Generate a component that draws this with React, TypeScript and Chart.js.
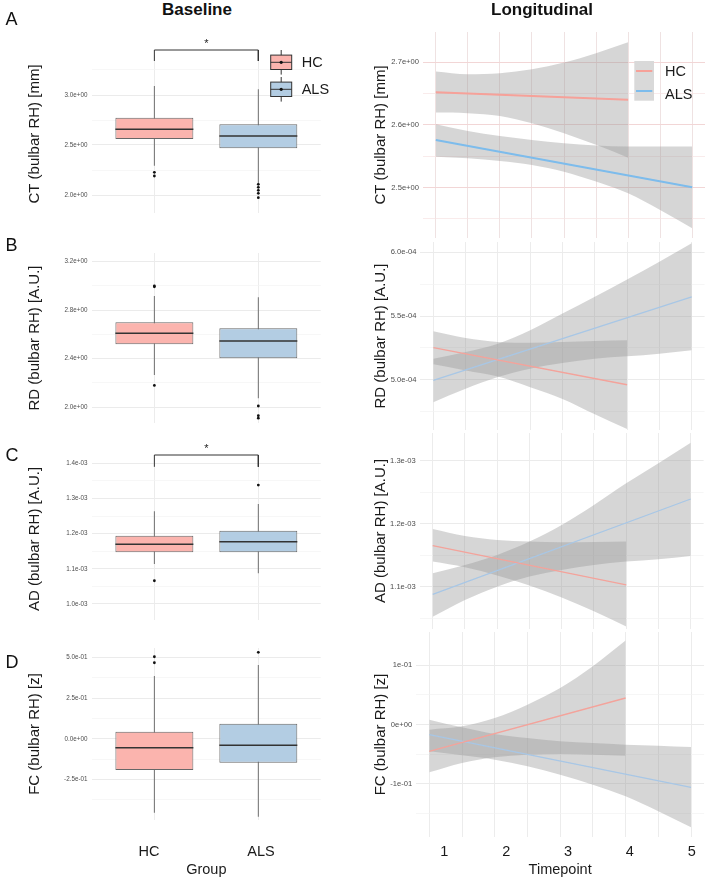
import React, { useEffect, useRef } from "react";
import { Chart, registerables } from "chart.js";

Chart.register(...registerables);

const FONT = "'Liberation Sans', Arial, Helvetica, sans-serif";
Chart.defaults.font.family = FONT;
Chart.defaults.color = "#1a1a1a";

// ---------------- data ----------------
const GROUPS = ["HC", "ALS"];
const GROUP_POS = [1, 2];
const TIMEPOINTS = [1, 2, 3, 4, 5];
const TIMEPOINT_LABELS = ["1", "2", "3", "4", "5"];
const TIME_GRID = [1, 1.5, 2, 2.5, 3, 3.5, 4, 4.5, 5];

const HC_BAND_T = [1, 1.5, 2, 2.5, 3, 3.5, 4];
const ALS_BAND_T = [1, 1.5, 2, 2.5, 3, 3.5, 4, 4.5, 5];
const HC_LINE_T = [1, 4];
const ALS_LINE_T = [1, 5];

// Baseline boxplots: [lower whisker, Q1, median, Q3, upper whisker]
const CT_HC_BOX = [2.293, 2.56, 2.657, 2.773, 3.09];
const CT_ALS_BOX = [2.117, 2.467, 2.59, 2.707, 3.057];
const CT_HC_OUT = [2.227, 2.19];
const CT_ALS_OUT = [2.107, 2.077, 2.047, 2.017, 1.973];
const CT_SIG = [3.34, 3.45];

const RD_HC_BOX = [2.266, 2.519, 2.61, 2.7, 2.917];
const RD_ALS_BOX = [2.074, 2.404, 2.546, 2.651, 2.906];
const RD_HC_OUT = [3.0, 2.993, 2.18];
const RD_ALS_OUT = [2.01, 1.93, 1.91];

const AD_HC_BOX = [1.114e-3, 1.147e-3, 1.17e-3, 1.194e-3, 1.264e-3];
const AD_ALS_BOX = [1.087e-3, 1.147e-3, 1.177e-3, 1.208e-3, 1.284e-3];
const AD_HC_OUT = [1.066e-3];
const AD_ALS_OUT = [1.338e-3];
const AD_SIG = [1.39e-3, 1.4236e-3];

const FC_HC_BOX = [-0.456, -0.192, -0.055, 0.044, 0.387];
const FC_ALS_BOX = [-0.48, -0.147, -0.04, 0.093, 0.455];
const FC_HC_OUT = [0.506, 0.469];
const FC_ALS_OUT = [0.533];

// Baseline y ticks
const CT_B_TICKS = [2.0, 2.5, 3.0];
const CT_B_LABELS = ["2.0e+00", "2.5e+00", "3.0e+00"];
const CT_B_MINOR = [2.25, 2.75, 3.25];
const RD_B_TICKS = [2.0, 2.4, 2.8, 3.2];
const RD_B_LABELS = ["2.0e+00", "2.4e+00", "2.8e+00", "3.2e+00"];
const RD_B_MINOR = [2.2, 2.6, 3.0];
const AD_B_TICKS = [1.0e-3, 1.1e-3, 1.2e-3, 1.3e-3, 1.4e-3];
const AD_B_LABELS = ["1.0e-03", "1.1e-03", "1.2e-03", "1.3e-03", "1.4e-03"];
const AD_B_MINOR = [1.05e-3, 1.15e-3, 1.25e-3, 1.35e-3];
const FC_B_TICKS = [-0.25, 0, 0.25, 0.5];
const FC_B_LABELS = ["-2.5e-01", "0.0e+00", "2.5e-01", "5.0e-01"];
const FC_B_MINOR = [-0.375, -0.125, 0.125, 0.375];

// Longitudinal fits and confidence bands
const CT_HC_LINE = [2.652, 2.64];
const CT_HC_UPPER = [2.6851, 2.6808, 2.6824, 2.6888, 2.6995, 2.7144, 2.7319];
const CT_HC_LOWER = [2.6196, 2.6186, 2.6143, 2.6026, 2.5867, 2.5681, 2.5477];
const CT_ALS_LINE = [2.5759, 2.5003];
const CT_ALS_UPPER = [2.601, 2.5903, 2.5823, 2.5759, 2.5706, 2.5669, 2.5653, 2.5653, 2.5653];
const CT_ALS_LOWER = [2.5493, 2.5466, 2.5424, 2.536, 2.5253, 2.5094, 2.4907, 2.4641, 2.4348];

const RD_HC_LINE = [5.252e-4, 4.961e-4];
const RD_HC_UPPER = [5.381e-4, 5.328e-4, 5.297e-4, 5.291e-4, 5.297e-4, 5.304e-4, 5.31e-4];
const RD_HC_LOWER = [5.121e-4, 5.073e-4, 5.026e-4, 4.942e-4, 4.85e-4, 4.73e-4, 4.614e-4];
const RD_ALS_LINE = [4.995e-4, 5.651e-4];
const RD_ALS_UPPER = [5.165e-4, 5.218e-4, 5.283e-4, 5.388e-4, 5.52e-4, 5.651e-4, 5.787e-4, 5.927e-4, 6.071e-4];
const RD_ALS_LOWER = [4.824e-4, 4.929e-4, 5.021e-4, 5.087e-4, 5.131e-4, 5.165e-4, 5.184e-4, 5.205e-4, 5.231e-4];

const AD_HC_LINE = [1.1652e-3, 1.1029e-3];
const AD_HC_UPPER = [1.1917e-3, 1.1806e-3, 1.1742e-3, 1.1716e-3, 1.1705e-3, 1.171e-3, 1.1716e-3];
const AD_HC_LOWER = [1.1399e-3, 1.131e-3, 1.118e-3, 1.102e-3, 1.083e-3, 1.061e-3, 1.0368e-3];
const AD_ALS_LINE = [1.088e-3, 1.2392e-3];
const AD_ALS_UPPER = [1.1214e-3, 1.1346e-3, 1.1504e-3, 1.1716e-3, 1.198e-3, 1.2297e-3, 1.2641e-3, 1.2958e-3, 1.3285e-3];
const AD_ALS_LOWER = [1.0526e-3, 1.0791e-3, 1.1002e-3, 1.1161e-3, 1.1266e-3, 1.1346e-3, 1.1399e-3, 1.1436e-3, 1.1488e-3];

const FC_HC_LINE = [-0.0449, 0.0449];
const FC_HC_UPPER = [-0.0084, -0.0028, 0.0112, 0.0337, 0.0618, 0.0983, 0.1416];
const FC_HC_LOWER = [-0.0803, -0.0646, -0.0551, -0.0506, -0.0494, -0.0506, -0.0522];
const FC_ALS_LINE = [-0.0169, -0.1056];
const FC_ALS_UPPER = [0.0084, -0.0045, -0.0157, -0.0225, -0.0281, -0.0309, -0.0337, -0.0354, -0.0376];
const FC_ALS_LOWER = [-0.0449, -0.0517, -0.059, -0.0702, -0.0843, -0.1011, -0.1208, -0.1461, -0.173];

// Longitudinal y ticks
const CT_L_TICKS = [2.5, 2.6, 2.7];
const CT_L_LABELS = ["2.5e+00", "2.6e+00", "2.7e+00"];
const CT_L_MINOR = [2.45, 2.55, 2.65];
const RD_L_TICKS = [5.0e-4, 5.5e-4, 6.0e-4];
const RD_L_LABELS = ["5.0e-04", "5.5e-04", "6.0e-04"];
const RD_L_MINOR = [4.75e-4, 5.25e-4, 5.75e-4];
const AD_L_TICKS = [1.1e-3, 1.2e-3, 1.3e-3];
const AD_L_LABELS = ["1.1e-03", "1.2e-03", "1.3e-03"];
const AD_L_MINOR = [1.05e-3, 1.15e-3, 1.25e-3];
const FC_L_TICKS = [-0.1, 0, 0.1];
const FC_L_LABELS = ["-1e-01", "0e+00", "1e-01"];
const FC_L_MINOR = [-0.15, -0.05, 0.05];

// ---------------- styles ----------------
const BOX_FILL = ["#FBB4AE", "#B3CDE3"];
const BOX_WIDTH = 0.75;
const BAND_FILL = "rgba(153,153,153,0.4)";

type Area = { l: number; r: number; t: number; b: number };
type Frame = { left: number; top: number; width: number; height: number; area: Area; padLeft: number; axisH: number };

const LEFT_FRAMES: Frame[] = [
  { left: 0, top: 20, width: 354, height: 207, area: { l: 92, r: 320.7, t: 55, b: 213 }, padLeft: 20, axisH: 0 },
  { left: 0, top: 239, width: 354, height: 198, area: { l: 92, r: 320.7, t: 253, b: 423 }, padLeft: 20, axisH: 0 },
  { left: 0, top: 430, width: 354, height: 204, area: { l: 92, r: 320.7, t: 458, b: 620 }, padLeft: 20, axisH: 0 },
  { left: 0, top: 634, width: 354, height: 247, area: { l: 92, r: 320.7, t: 648, b: 820 }, padLeft: 20, axisH: 58.7 },
];
const RIGHT_FRAMES: Frame[] = [
  { left: 354, top: 18, width: 354, height: 234, area: { l: 423, r: 705, t: 32, b: 238 }, padLeft: 12, axisH: 0 },
  { left: 354, top: 228, width: 354, height: 216, area: { l: 420.4, r: 704.6, t: 242, b: 430 }, padLeft: 12, axisH: 0 },
  { left: 354, top: 419, width: 354, height: 224, area: { l: 419.8, r: 703.6, t: 433, b: 629 }, padLeft: 12, axisH: 0 },
  { left: 354, top: 618, width: 354, height: 263, area: { l: 416.2, r: 704.1, t: 632, b: 837 }, padLeft: 12, axisH: 41.7 },
];

function frameLayout(f: Frame) {
  return {
    padding: {
      left: f.padLeft,
      right: f.left + f.width - f.area.r,
      top: f.area.t - f.top,
      bottom: f.top + f.height - f.area.b - f.axisH,
    },
    yWidth: f.area.l - f.left - f.padLeft,
  };
}

function yScale(o: any) {
  const ticks = [
    ...o.major.map((v: number) => ({ value: v, major: true })),
    ...o.minor.map((v: number) => ({ value: v, major: false })),
  ].sort((a: any, b: any) => a.value - b.value);
  return {
    type: "linear",
    position: "left",
    min: o.range[0],
    max: o.range[1],
    afterBuildTicks: (s: any) => {
      s.ticks = ticks.map((t: any) => ({ ...t }));
    },
    afterFit: (s: any) => {
      s.width = o.width;
    },
    border: { display: false },
    grid: {
      drawTicks: false,
      color: (c: any) => (c.tick && c.tick.major ? o.gridMajor : o.gridMinor),
      lineWidth: (c: any) => (c.tick && c.tick.major ? 1 : 0.7),
    },
    ticks: {
      autoSkip: false,
      padding: o.tickPad,
      color: "#4d4d4d",
      font: { size: o.tickSize, family: FONT },
      callback: (v: number) => {
        const i = o.major.indexOf(v);
        return i >= 0 ? o.labels[i] : "";
      },
    },
    title: {
      display: true,
      text: o.title,
      color: "#1a1a1a",
      font: { size: 15, family: FONT },
      padding: { top: o.titlePad, bottom: 0 },
    },
  };
}

function xGridScale(o: any) {
  return {
    type: "linear",
    position: "bottom",
    weight: 0,
    min: o.min,
    max: o.max,
    offset: false,
    afterBuildTicks: (s: any) => {
      s.ticks = o.grid.map((v: number) => ({ value: v }));
    },
    afterFit: (s: any) => {
      s.height = 0;
    },
    border: { display: false },
    grid: { offset: false, drawTicks: false, color: o.color, lineWidth: 1 },
    ticks: { display: false },
  };
}

function xLabelScale(o: any) {
  return {
    type: "linear",
    position: "bottom",
    weight: 1,
    min: o.min,
    max: o.max,
    offset: false,
    afterBuildTicks: (s: any) => {
      s.ticks = o.values.map((v: number) => ({ value: v }));
    },
    afterFit: (s: any) => {
      s.height = o.height;
    },
    border: { display: false },
    grid: { display: false, drawTicks: false },
    ticks: {
      autoSkip: false,
      maxRotation: 0,
      minRotation: 0,
      padding: o.pad,
      color: "#1a1a1a",
      font: { size: 14.5, family: FONT },
      callback: (v: number) => {
        const i = o.values.indexOf(v);
        return i >= 0 ? o.labels[i] : "";
      },
    },
    title: {
      display: true,
      text: o.title,
      color: "#1a1a1a",
      font: { size: 14.5, family: FONT },
      padding: { top: 0, bottom: 0 },
    },
  };
}

const BASE_PANELS = [
  { title: "CT (bulbar RH) [mm]", hc: CT_HC_BOX, als: CT_ALS_BOX, hcOut: CT_HC_OUT, alsOut: CT_ALS_OUT, sig: CT_SIG, major: CT_B_TICKS, labels: CT_B_LABELS, minor: CT_B_MINOR, range: [1.82, 3.4], legend: true },
  { title: "RD (bulbar RH) [A.U.]", hc: RD_HC_BOX, als: RD_ALS_BOX, hcOut: RD_HC_OUT, alsOut: RD_ALS_OUT, sig: null, major: RD_B_TICKS, labels: RD_B_LABELS, minor: RD_B_MINOR, range: [1.87, 3.2717], legend: false },
  { title: "AD (bulbar RH) [A.U.]", hc: AD_HC_BOX, als: AD_ALS_BOX, hcOut: AD_HC_OUT, alsOut: AD_ALS_OUT, sig: AD_SIG, major: AD_B_TICKS, labels: AD_B_LABELS, minor: AD_B_MINOR, range: [0.9544e-3, 1.4151e-3], legend: false },
  { title: "FC (bulbar RH) [z]", hc: FC_HC_BOX, als: FC_ALS_BOX, hcOut: FC_HC_OUT, alsOut: FC_ALS_OUT, sig: null, major: FC_B_TICKS, labels: FC_B_LABELS, minor: FC_B_MINOR, range: [-0.5006, 0.5598], legend: false },
];

const LONG_PANELS = [
  { title: "CT (bulbar RH) [mm]", hcLine: CT_HC_LINE, hcUpper: CT_HC_UPPER, hcLower: CT_HC_LOWER, alsLine: CT_ALS_LINE, alsUpper: CT_ALS_UPPER, alsLower: CT_ALS_LOWER, major: CT_L_TICKS, labels: CT_L_LABELS, minor: CT_L_MINOR, range: [2.4193, 2.7484], legend: true },
  { title: "RD (bulbar RH) [A.U.]", hcLine: RD_HC_LINE, hcUpper: RD_HC_UPPER, hcLower: RD_HC_LOWER, alsLine: RD_ALS_LINE, alsUpper: RD_ALS_UPPER, alsLower: RD_ALS_LOWER, major: RD_L_TICKS, labels: RD_L_LABELS, minor: RD_L_MINOR, range: [4.606e-4, 6.081e-4], legend: false },
  { title: "AD (bulbar RH) [A.U.]", hcLine: AD_HC_LINE, hcUpper: AD_HC_UPPER, hcLower: AD_HC_LOWER, alsLine: AD_ALS_LINE, alsUpper: AD_ALS_UPPER, alsLower: AD_ALS_LOWER, major: AD_L_TICKS, labels: AD_L_LABELS, minor: AD_L_MINOR, range: [1.033e-3, 1.3439e-3], legend: false },
  { title: "FC (bulbar RH) [z]", hcLine: FC_HC_LINE, hcUpper: FC_HC_UPPER, hcLower: FC_HC_LOWER, alsLine: FC_ALS_LINE, alsUpper: FC_ALS_UPPER, alsLower: FC_ALS_LOWER, major: FC_L_TICKS, labels: FC_L_LABELS, minor: FC_L_MINOR, range: [-0.1893, 0.1561], legend: false },
];

function boxConfig(p: any, f: Frame, bottom: boolean) {
  const lay = frameLayout(f);
  const boxes = [p.hc, p.als];
  const datasets: any[] = [];
  datasets.push({
    type: "bar",
    data: GROUP_POS.map((x, i) => ({ x, y: [boxes[i][0], boxes[i][4]] })),
    backgroundColor: "#6f6f6f",
    borderWidth: 0,
    maxBarThickness: 1,
    grouped: false,
    order: 4,
  });
  datasets.push({
    type: "bar",
    data: GROUP_POS.map((x, i) => ({ x, y: [boxes[i][1], boxes[i][3]] })),
    backgroundColor: BOX_FILL,
    borderColor: "#676767",
    borderWidth: 1,
    borderSkipped: false,
    barPercentage: BOX_WIDTH,
    categoryPercentage: 1,
    grouped: false,
    order: 3,
  });
  GROUP_POS.forEach((x, i) => {
    datasets.push({
      type: "line",
      data: [
        { x: x - BOX_WIDTH / 2, y: boxes[i][2] },
        { x: x + BOX_WIDTH / 2, y: boxes[i][2] },
      ],
      borderColor: "#333333",
      borderWidth: 1.5,
      pointRadius: 0,
      fill: false,
      order: 0,
    });
  });
  const outs = [p.hcOut, p.alsOut];
  GROUP_POS.forEach((x, i) => {
    datasets.push({
      type: "scatter",
      data: outs[i].map((v: number) => ({ x, y: v })),
      pointRadius: 1.4,
      pointBackgroundColor: "#111111",
      pointBorderWidth: 0,
      order: 1,
    });
  });
  if (p.sig) {
    datasets.push({
      type: "line",
      data: [
        { x: GROUP_POS[0], y: p.sig[0] },
        { x: GROUP_POS[0], y: p.sig[1] },
        { x: GROUP_POS[1], y: p.sig[1] },
        { x: GROUP_POS[1], y: p.sig[0] },
      ],
      borderColor: "#333333",
      borderWidth: 1,
      pointRadius: 0,
      fill: false,
      clip: false,
      order: 1,
    });
  }
  const scales: any = {
    x: xGridScale({ min: 0.4, max: 2.6, grid: GROUP_POS, color: "#ececec" }),
    y: yScale({ ...p, width: lay.yWidth, tickPad: 4.5, tickSize: 6.3, titlePad: 6, gridMajor: "#ebebeb", gridMinor: "#f3f3f3" }),
  };
  if (bottom) {
    scales.x2 = xLabelScale({ min: 0.491, max: 2.533, values: GROUP_POS, labels: GROUPS, pad: 23, height: f.axisH, title: "Group" });
  }
  const overlay = {
    id: "boxOverlay",
    afterDraw(chart: any) {
      const ctx = chart.ctx;
      ctx.save();
      if (p.sig) {
        const xs = chart.scales.x;
        const ys = chart.scales.y;
        const cx = (xs.getPixelForValue(GROUP_POS[0]) + xs.getPixelForValue(GROUP_POS[1])) / 2;
        const cy = ys.getPixelForValue(p.sig[1]);
        ctx.fillStyle = "#222";
        ctx.font = `11px ${FONT}`;
        ctx.textAlign = "center";
        ctx.textBaseline = "alphabetic";
        ctx.fillText("*", cx, cy - 3.5);
      }
      if (p.legend) {
        const centers = [62.3, 89.3];
        GROUPS.forEach((g, i) => {
          const cx = 281.2 - f.left;
          const cy = centers[i] - f.top;
          ctx.strokeStyle = "#333";
          ctx.lineWidth = 1;
          ctx.beginPath();
          ctx.moveTo(cx, cy - 12.3);
          ctx.lineTo(cx, cy + 12.3);
          ctx.stroke();
          ctx.fillStyle = BOX_FILL[i];
          ctx.fillRect(cx - 10.5, cy - 7.2, 21, 14.4);
          ctx.strokeRect(cx - 10.5, cy - 7.2, 21, 14.4);
          ctx.beginPath();
          ctx.moveTo(cx - 10.5, cy);
          ctx.lineTo(cx + 10.5, cy);
          ctx.stroke();
          ctx.fillStyle = "#111";
          ctx.beginPath();
          ctx.arc(cx, cy, 1.6, 0, Math.PI * 2);
          ctx.fill();
          ctx.fillStyle = "#1a1a1a";
          ctx.font = `14.5px ${FONT}`;
          ctx.textAlign = "left";
          ctx.textBaseline = "middle";
          ctx.fillText(g, 301.7 - f.left, cy + 0.5);
        });
      }
      ctx.restore();
    },
  };
  return {
    type: "bar",
    data: { datasets },
    options: {
      responsive: false,
      animation: false,
      devicePixelRatio: 1,
      events: [],
      layout: { padding: lay.padding },
      plugins: { legend: { display: false }, tooltip: { enabled: false } },
      scales,
    },
    plugins: [overlay],
  };
}

function longConfig(p: any, f: Frame, idx: number, bottom: boolean) {
  const lay = frameLayout(f);
  const pts = (xs: number[], ys: number[]) => xs.map((x, i) => ({ x, y: ys[i] }));
  const band = (xs: number[], ys: number[], fill: boolean) => ({
    type: "line",
    data: pts(xs, ys),
    borderColor: "rgba(0,0,0,0)",
    borderWidth: 0,
    pointRadius: 0,
    fill: fill ? "-1" : false,
    backgroundColor: BAND_FILL,
    cubicInterpolationMode: "monotone",
    order: 5,
  });
  const first = idx === 0;
  const hcColor = first ? "#F6A199" : "#F4A39B";
  const alsColor = first ? "#7DBCEC" : "#A8C7E6";
  const lw = first ? 2 : 1.3;
  const datasets: any[] = [
    band(HC_BAND_T, p.hcUpper, false),
    band(HC_BAND_T, p.hcLower, true),
    band(ALS_BAND_T, p.alsUpper, false),
    band(ALS_BAND_T, p.alsLower, true),
    { type: "line", data: pts(HC_LINE_T, p.hcLine), borderColor: hcColor, borderWidth: lw, pointRadius: 0, fill: false, order: 1 },
    { type: "line", data: pts(ALS_LINE_T, p.alsLine), borderColor: alsColor, borderWidth: lw, pointRadius: 0, fill: false, order: 1 },
  ];
  const gridMajor = first ? "#f2d6d6" : "#ebebeb";
  const gridMinor = first ? "#f6e3e3" : "#f2f2f2";
  const scales: any = {
    x: xGridScale({ min: 0.8, max: 5.2, grid: TIME_GRID, color: first ? "#efe2e2" : "#ececec" }),
    y: yScale({ ...p, width: lay.yWidth, tickPad: 4, tickSize: 7.6, titlePad: 6, gridMajor, gridMinor }),
  };
  if (bottom) {
    scales.x2 = xLabelScale({ min: 0.5457, max: 5.2, values: TIMEPOINTS, labels: TIMEPOINT_LABELS, pad: 6, height: f.axisH, title: "Timepoint" });
  }
  const overlay = {
    id: "lineOverlay",
    afterDraw(chart: any) {
      if (!p.legend) return;
      const ctx = chart.ctx;
      ctx.save();
      ctx.fillStyle = "#d9d9d9";
      ctx.fillRect(634.3 - f.left, 61 - f.top, 19.7, 39.7);
      const keyY = [71, 91];
      const textY = [71.7, 94.5];
      const cols = [hcColor, alsColor];
      GROUPS.forEach((g, i) => {
        ctx.strokeStyle = cols[i];
        ctx.lineWidth = 2;
        ctx.beginPath();
        ctx.moveTo(636 - f.left, keyY[i] - f.top);
        ctx.lineTo(652.3 - f.left, keyY[i] - f.top);
        ctx.stroke();
        ctx.fillStyle = "#1a1a1a";
        ctx.font = `14.5px ${FONT}`;
        ctx.textAlign = "left";
        ctx.textBaseline = "middle";
        ctx.fillText(g, 665 - f.left, textY[i] - f.top);
      });
      ctx.restore();
    },
  };
  return {
    type: "line",
    data: { datasets },
    options: {
      responsive: false,
      animation: false,
      devicePixelRatio: 1,
      events: [],
      layout: { padding: lay.padding },
      plugins: { legend: { display: false }, tooltip: { enabled: false } },
      scales,
    },
    plugins: [overlay],
  };
}

function ChartCanvas({ frame, build }: { frame: Frame; build: () => any }) {
  const ref = useRef<HTMLCanvasElement>(null);
  useEffect(() => {
    const chart = new Chart(ref.current as HTMLCanvasElement, build());
    return () => chart.destroy();
  }, []);
  return (
    <canvas
      ref={ref}
      width={frame.width}
      height={frame.height}
      style={{ position: "absolute", left: frame.left, top: frame.top, width: frame.width, height: frame.height }}
    />
  );
}

function Label({ x, y, size, bold, text, center }: { x: number; y: number; size: number; bold?: boolean; text: string; center?: boolean }) {
  const style: any = {
    position: "absolute",
    top: y - 0.4885 * size,
    fontSize: size,
    lineHeight: `${size}px`,
    fontWeight: bold ? 700 : 400,
    color: "#111",
    whiteSpace: "nowrap",
    fontFamily: FONT,
  };
  if (center) return <div style={{ ...style, left: x - 150, width: 300, textAlign: "center" }}>{text}</div>;
  return <div style={{ ...style, left: x }}>{text}</div>;
}

export default function App() {
  return (
    <div style={{ position: "absolute", left: 0, top: 0, width: 708, height: 882, background: "#fff", overflow: "hidden", fontFamily: FONT }}>
      {BASE_PANELS.map((p, i) => (
        <ChartCanvas key={"b" + i} frame={LEFT_FRAMES[i]} build={() => boxConfig(p, LEFT_FRAMES[i], i === 3)} />
      ))}
      {LONG_PANELS.map((p, i) => (
        <ChartCanvas key={"l" + i} frame={RIGHT_FRAMES[i]} build={() => longConfig(p, RIGHT_FRAMES[i], i, i === 3)} />
      ))}
      <Label x={197} y={9.5} size={17} bold center text="Baseline" />
      <Label x={542} y={9.5} size={17} bold center text="Longitudinal" />
      <Label x={5.5} y={19} size={18} text="A" />
      <Label x={5.5} y={245} size={18} text="B" />
      <Label x={5.5} y={455} size={18} text="C" />
      <Label x={5.5} y={661.5} size={18} text="D" />
    </div>
  );
}
